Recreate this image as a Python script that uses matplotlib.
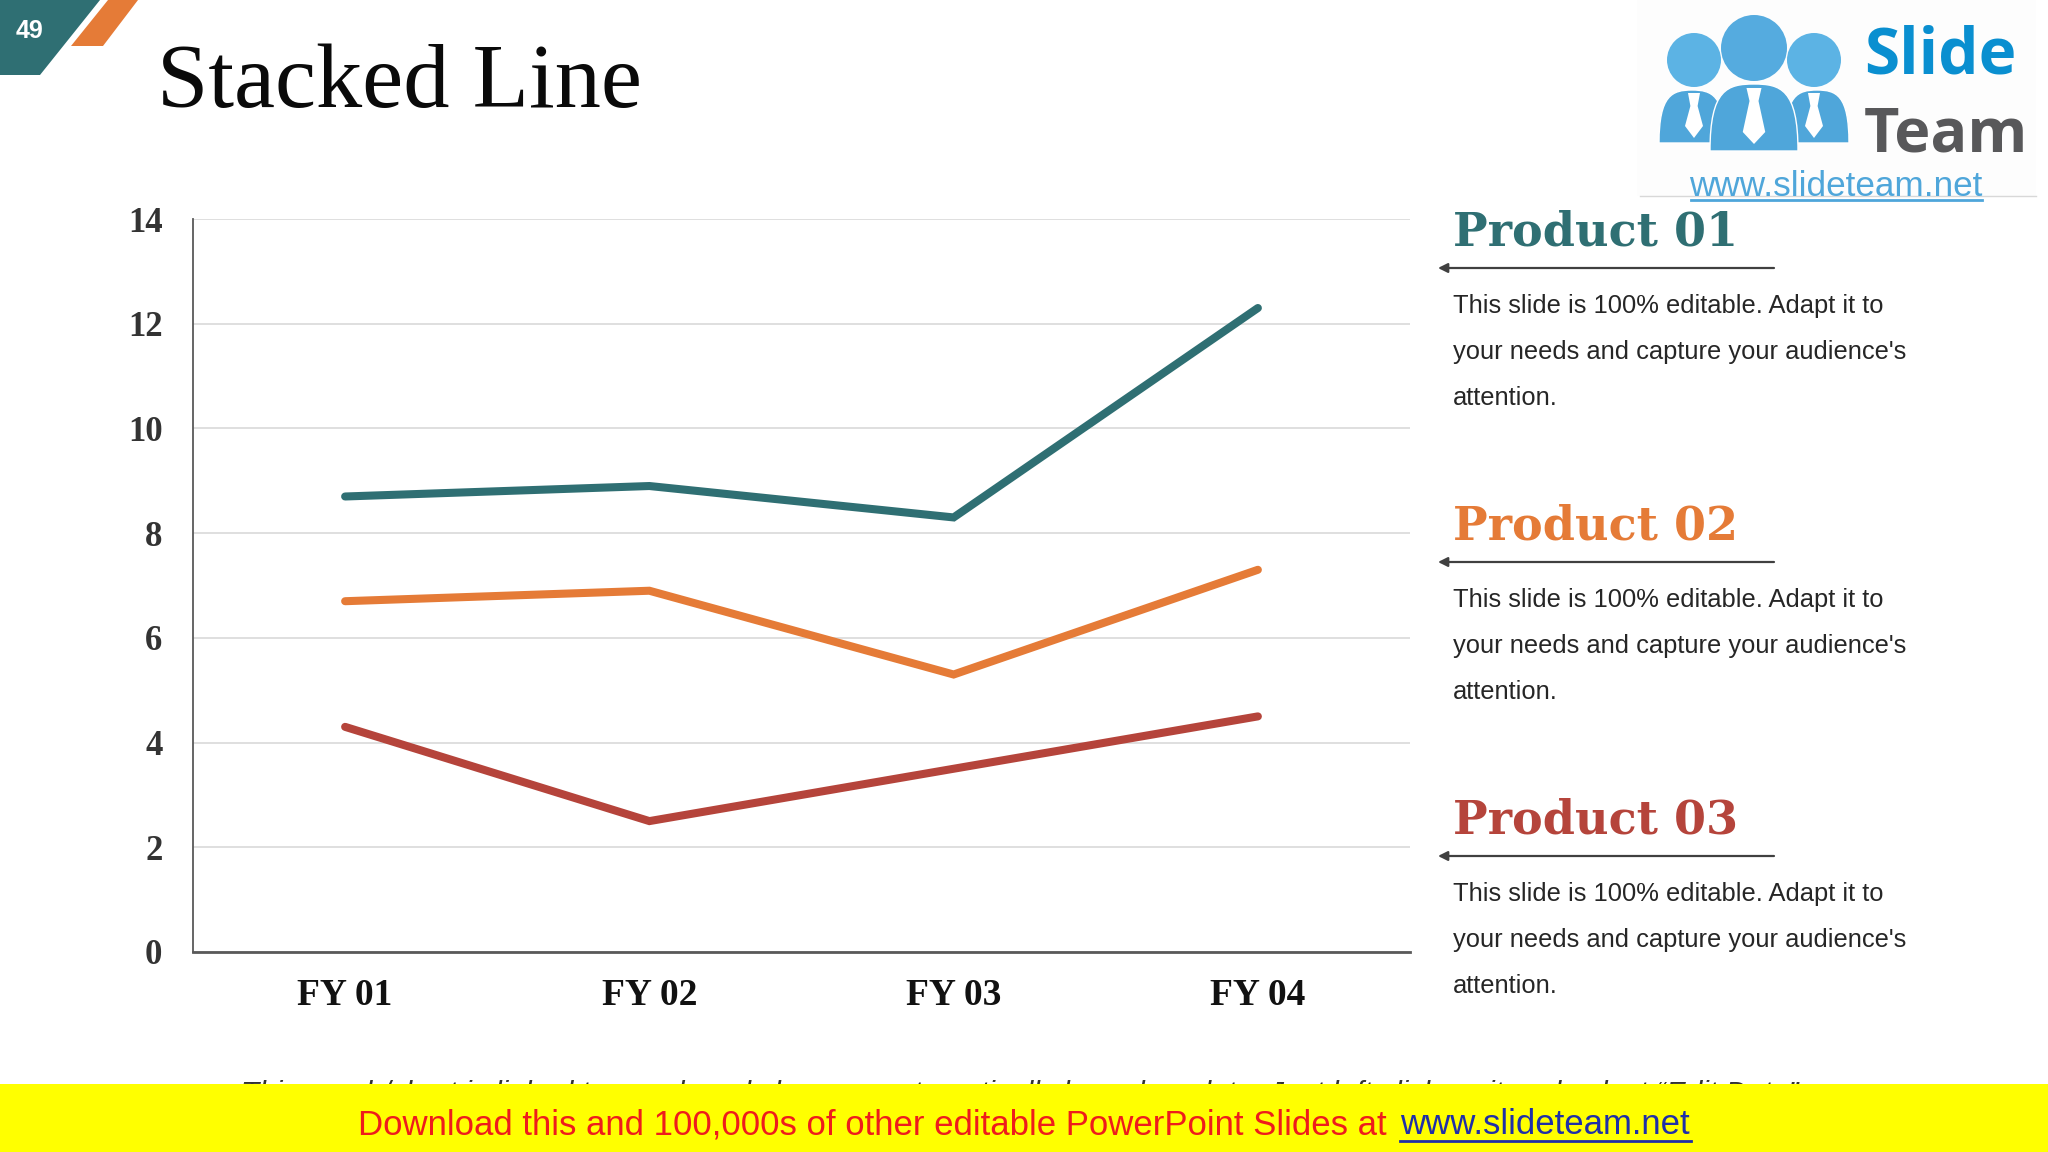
"""Stacked Line slide"""
import matplotlib
matplotlib.use('Agg')
import matplotlib.pyplot as plt
from matplotlib.patches import Polygon, Circle, PathPatch, Rectangle
from matplotlib.path import Path

# data
categories = ['FY 01', 'FY 02', 'FY 03', 'FY 04']
product_01 = [8.7, 8.9, 8.3, 12.3]
product_02 = [6.7, 6.9, 5.3, 7.3]
product_03 = [4.3, 2.5, 3.5, 4.5]
y_ticks = [0, 2, 4, 6, 8, 10, 12, 14]
product_names = ['Product 01', 'Product 02', 'Product 03']
body_lines = ['This slide is 100% editable. Adapt it to',
              "your needs and capture your audience's",
              'attention.']

TEAL = '#2f6f73'
ORANGE = '#e57b37'
RED = '#b5443b'
SERIF = 'Liberation Serif'
SANS = 'Liberation Sans'
W, H = 2048, 1152

fig = plt.figure(figsize=(W / 100, H / 100), dpi=100, facecolor='white')

# overlay in pixel coordinates for the slide furniture
bg = fig.add_axes([0, 0, 1, 1], zorder=3)
bg.set_xlim(0, W)
bg.set_ylim(H, 0)
bg.axis('off')
bg.patch.set_alpha(0)


# ---- chart ----
left, right, top, bottom = 193, 1410, 219, 952
ax = fig.add_axes([left / W, 1 - bottom / H, (right - left) / W, (bottom - top) / H], zorder=2)
ax.plot(categories, product_01, color=TEAL, lw=5.8, solid_capstyle='round', solid_joinstyle='miter')
ax.plot(categories, product_02, color=ORANGE, lw=5.8, solid_capstyle='round', solid_joinstyle='miter')
ax.plot(categories, product_03, color=RED, lw=5.8, solid_capstyle='round', solid_joinstyle='miter')
ax.set_xlim(-0.5, 3.5)
ax.set_ylim(0, 14)
ax.set_yticks(y_ticks)
ax.grid(axis='y', color='#d9d9d9', lw=1.2)
ax.set_axisbelow(True)
for s in ['top', 'right']:
    ax.spines[s].set_visible(False)
ax.spines['left'].set_color('#595959')
ax.spines['left'].set_linewidth(1.3)
ax.spines['bottom'].set_color('#595959')
ax.spines['bottom'].set_linewidth(2)
ax.tick_params(axis='y', length=0, pad=22, labelsize=25, labelcolor='#333333')
ax.tick_params(axis='x', length=0, pad=19, labelsize=27, labelcolor='#111111')
for lab in ax.get_xticklabels() + ax.get_yticklabels():
    lab.set_family(SERIF)
    lab.set_fontweight('bold')


# ---- corner tabs, title ----
bg.add_patch(Polygon([(0, 0), (100, 0), (40, 75), (0, 75)], color=TEAL, lw=0))
bg.add_patch(Polygon([(108, 0), (138, 0), (103, 46), (71, 46)], color=ORANGE, lw=0))
bg.text(30, 31, '49', color='white', family=SANS, fontweight='bold', fontsize=18,
        ha='center', va='center')
bg.text(157, 107, 'Stacked Line', color='#0a0a0a', family=SERIF, fontsize=66.5, va='baseline')


# ---- right hand blocks ----
colors = [TEAL, ORANGE, RED]
for i, name in enumerate(product_names):
    dy = 294 * i
    bg.text(1453, 246 + dy, name, color=colors[i], family='DejaVu Serif', fontweight='bold',
            fontsize=33.2, va='baseline')
    bg.annotate('', xy=(1438, 268 + dy), xytext=(1774, 268 + dy),
                arrowprops=dict(arrowstyle='-|>', color='#404040', lw=1.6, mutation_scale=14,
                                shrinkA=0, shrinkB=0))
    for j, line in enumerate(body_lines):
        bg.text(1453, 306 + dy + 46 * j, line, color='#262626', family=SANS, fontsize=18.4,
                va='center')


# ---- logo ----
LOGO = '#4fa6da'
bg.add_patch(Rectangle((1637, 0), 399, 196, color='#fdfdfd', lw=0, zorder=0))
bg.plot([1640, 2036], [196, 196], color='#d8d8d8', lw=1)


def body(x0, x1, ytop, ybot):
    xm = (x0 + x1) / 2
    verts = [(x0, ybot), (x0, ytop + 5), (xm - (x1 - x0) * 0.3, ytop), (xm, ytop),
             (xm + (x1 - x0) * 0.3, ytop), (x1, ytop + 5), (x1, ybot), (x0, ybot)]
    codes = [Path.MOVETO, Path.CURVE4, Path.CURVE4, Path.CURVE4,
             Path.CURVE4, Path.CURVE4, Path.CURVE4, Path.CLOSEPOLY]
    return PathPatch(Path(verts, codes), facecolor=LOGO, edgecolor='white', lw=1)


def tie(xc, ytop, ybot, w):
    return Polygon([(xc - w * 0.5, ytop), (xc + w * 0.5, ytop), (xc + w * 0.3, ytop + 13),
                    (xc + w * 0.75, ybot - 12), (xc, ybot), (xc - w * 0.75, ybot - 12),
                    (xc - w * 0.3, ytop + 13)], color='white', lw=0)


bg.add_patch(Circle((1694, 60), 27, color='#5cb3e4', lw=0))
bg.add_patch(Circle((1814, 60), 27, color='#5cb3e4', lw=0))
bg.add_patch(Circle((1754, 48), 33, color='#55abdf', lw=0))
bg.add_patch(body(1659, 1725, 90, 143))
bg.add_patch(body(1785, 1849, 90, 143))
bg.add_patch(body(1710, 1798, 84, 151))
bg.add_patch(tie(1694, 93, 138, 12))
bg.add_patch(tie(1814, 93, 138, 12))
bg.add_patch(tie(1754, 88, 144, 15))
bg.text(1864, 73, 'Slide', color='#0a8fd0', family='Open Sans', fontweight='bold', fontsize=46,
        va='baseline')
bg.text(1864, 152, 'Team', color='#58585a', family='Open Sans', fontweight='bold', fontsize=44,
        va='baseline')
bg.text(1836, 187, 'www.slideteam.net', color=LOGO, family=SANS, fontsize=25.3,
        ha='center', va='center')
bg.plot([1691, 1982], [200, 200], color=LOGO, lw=2)


# ---- footer note, mostly hidden by the banner ----
bg.text(1024, 1094, 'This graph/chart is linked to excel, and changes automatically based on data. '
        'Just left click on it and select \u201cEdit Data\u201d.',
        color='#333333', family=SANS, style='italic', fontsize=21.5, ha='center', va='center', zorder=1)
bg.add_patch(Rectangle((0, 1084), W, 68, color='#ffff00', lw=0, zorder=2))
bg.text(358, 1125, 'Download this and 100,000s of other editable PowerPoint Slides at ',
        color='#ee1c1c', family=SANS, fontsize=25, va='center', zorder=3)
bg.text(1400, 1125, 'www.slideteam.net', color='#1f2fa8', family=SANS, fontsize=25,
        va='center', zorder=3)
bg.plot([1400, 1691], [1141, 1141], color='#1f2fa8', lw=2, zorder=3)

fig.savefig('out.png', dpi=100)
